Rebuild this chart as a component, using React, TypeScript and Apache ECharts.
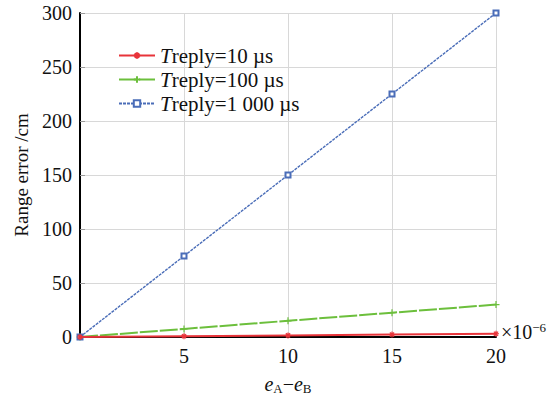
import React, { useEffect, useRef } from "react";
import * as echarts from "echarts";

const xValues = [0, 5, 10, 15, 20];
const t10 = [0, 0.75, 1.5, 2.25, 3];
const t100 = [0, 7.5, 15, 22.5, 30];
const t1000 = [0, 75, 150, 225, 300];
const seriesNames = ["Treply=10 µs", "Treply=100 µs", "Treply=1 000 µs"];

const FONT = "Times New Roman, Liberation Serif, DejaVu Serif, serif";
const PLUS = "path://M5,0 L5,10 M0,5 L10,5";
const STAR = "path://M5,0 L5,10 M0,5 L10,5 M1.5,1.5 L8.5,8.5 M8.5,1.5 L1.5,8.5";

export default function App() {
  const ref = useRef<HTMLDivElement>(null);
  useEffect(() => {
    if (!ref.current) return;
    const chart = echarts.init(ref.current, null, { renderer: "svg" });
    const mk = (arr: number[]) => xValues.map((x, i) => [x, arr[i]]);
    chart.setOption({
      animation: false,
      textStyle: { fontFamily: FONT },
      grid: { left: 80, right: 63, top: 13, bottom: 60, containLabel: false },
      legend: {
        orient: "vertical",
        left: 113,
        top: 40,
        itemWidth: 36,
        itemHeight: 8,
        itemGap: 3,
        textStyle: {
          fontFamily: FONT,
          fontSize: 21,
          color: "#111",
          rich: {
            i: { fontStyle: "italic", fontFamily: FONT, fontSize: 21, color: "#111" },
            n: { fontFamily: FONT, fontSize: 21, color: "#111" },
          },
        },
        formatter: (name: string) => "{i|T}{n|" + name.slice(1) + "}",
        data: seriesNames,
      },
      xAxis: {
        type: "value",
        min: 0,
        max: 20,
        interval: 5,
        axisLine: { onZero: false, lineStyle: { color: "#000", width: 2 } },
        axisTick: { show: false },
        axisLabel: {
          fontFamily: FONT,
          fontSize: 20,
          color: "#111",
          margin: 9,
          formatter: (v: number) => (v === 0 ? "" : String(v)),
        },
        splitLine: { show: true, lineStyle: { color: "#d8d8d8", width: 1 } },
        name: "{e|e}{s|A}{n|−}{e|e}{s|B}",
        nameLocation: "middle",
        nameGap: 36,
        nameTextStyle: {
          rich: {
            e: { fontStyle: "italic", fontFamily: FONT, fontSize: 20, color: "#111" },
            s: { fontFamily: FONT, fontSize: 13, color: "#111", verticalAlign: "bottom", padding: [9, 0, 0, 0] },
            n: { fontFamily: FONT, fontSize: 20, color: "#111" },
          },
        },
      },
      yAxis: {
        type: "value",
        min: 0,
        max: 300,
        interval: 50,
        axisLine: { show: true, onZero: false, lineStyle: { color: "#000", width: 2 } },
        axisTick: { show: true, inside: true, length: 5, lineStyle: { color: "#999" } },
        axisLabel: { fontFamily: FONT, fontSize: 20, color: "#111", margin: 8 },
        splitLine: { show: true, lineStyle: { color: "#d8d8d8", width: 1 } },
        name: "Range error /cm",
        nameLocation: "middle",
        nameGap: 49,
        nameTextStyle: { fontFamily: FONT, fontSize: 19, color: "#111" },
      },
      graphic: [
        {
          type: "text",
          left: 501,
          top: 321,
          style: {
            text: "{n|×10}{s|−6}",
            rich: {
              n: { fontFamily: FONT, fontSize: 20, fill: "#111" },
              s: { fontFamily: FONT, fontSize: 13, fill: "#111", verticalAlign: "top", padding: [0, 0, 9, 0] },
            },
          },
        },
      ],
      series: [
        {
          name: seriesNames[1],
          type: "line",
          data: mk(t100),
          symbol: PLUS,
          symbolSize: 7,
          showSymbol: true,
          lineStyle: { color: "#6cbf3c", width: 2, type: [18, 2] },
          itemStyle: { color: "#6cbf3c", borderColor: "#6cbf3c", borderWidth: 1.2 },
          z: 2,
        },
        {
          name: seriesNames[2],
          type: "line",
          data: mk(t1000),
          symbol: "emptyRect",
          symbolSize: 5,
          lineStyle: { color: "#4a6db8", width: 1.4, type: [3, 1] },
          itemStyle: { color: "#4a6db8", borderColor: "#4a6db8", borderWidth: 1.2 },
          z: 3,
        },
        {
          name: seriesNames[0],
          type: "line",
          data: mk(t10),
          symbol: STAR,
          symbolSize: 6,
          lineStyle: { color: "#e8343a", width: 2 },
          itemStyle: { color: "#e8343a", borderColor: "#e8343a", borderWidth: 1.2 },
          z: 4,
        },
      ],
    });
    return () => chart.dispose();
  }, []);
  return <div ref={ref} style={{ position: "absolute", left: 0, top: 0, width: 559, height: 400 }} />;
}
